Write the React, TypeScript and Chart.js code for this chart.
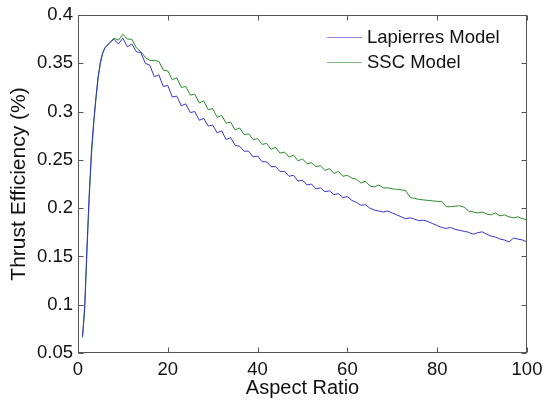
import React, { useEffect, useRef } from "react";
import { Chart, registerables } from "chart.js";

Chart.register(...registerables);

// ---- Data ----
const aspectRatio = [
  1, 1.5, 2, 2.5, 3, 3.5, 4, 4.5, 5, 5.5, 6,
  7, 8, 9, 10, 11, 12, 13, 14, 15, 16,
  17, 18, 19, 20, 21, 22, 23, 24, 25, 26,
  27, 28, 29, 30, 31, 32, 33, 34, 35, 36,
  37, 38, 39, 40, 41, 42, 43, 44, 45, 46,
  47, 48, 49, 50, 51, 52, 53, 54, 55, 56,
  57, 58, 59, 60, 61, 62, 63, 64, 65, 66,
  67, 68, 69, 70, 71, 72, 73, 74, 75, 76,
  77, 78, 79, 80, 81, 82, 83, 84, 85, 86,
  87, 88, 89, 90, 91, 92, 93, 94, 95, 96,
  97, 98, 99, 100,
];

const lapierresModel = [
  0.067, 0.1, 0.16, 0.215, 0.26, 0.29, 0.315, 0.337, 0.352, 0.361, 0.366,
  0.371, 0.375, 0.37, 0.376, 0.367, 0.37, 0.362, 0.361, 0.35, 0.348,
  0.336, 0.338, 0.326, 0.327, 0.315, 0.316, 0.306, 0.308, 0.299, 0.3,
  0.291, 0.293, 0.285, 0.286, 0.278, 0.28, 0.271, 0.273, 0.265, 0.264,
  0.259, 0.259, 0.253, 0.254, 0.248, 0.248, 0.243, 0.243, 0.238, 0.238,
  0.233, 0.234, 0.228, 0.229, 0.224, 0.225, 0.22, 0.221, 0.217, 0.218,
  0.214, 0.215, 0.211, 0.212, 0.208, 0.206, 0.203, 0.2035, 0.2, 0.198,
  0.197, 0.196, 0.197, 0.195, 0.193, 0.191, 0.189, 0.19, 0.1885, 0.187,
  0.1875, 0.186, 0.184, 0.182, 0.18, 0.179, 0.18, 0.178, 0.177, 0.176,
  0.175, 0.173, 0.1745, 0.1755, 0.173, 0.171, 0.17, 0.168, 0.167, 0.165,
  0.169, 0.168, 0.167, 0.165,
];

const sscModel = [
  0.066, 0.095, 0.155, 0.21, 0.255, 0.287, 0.313, 0.335, 0.35, 0.36, 0.366,
  0.371, 0.376, 0.374, 0.38, 0.375, 0.375, 0.366, 0.362, 0.356, 0.353,
  0.353, 0.352, 0.343, 0.342, 0.333, 0.335, 0.325, 0.326, 0.317, 0.318,
  0.309, 0.311, 0.302, 0.303, 0.294, 0.296, 0.288, 0.289, 0.281, 0.283,
  0.276, 0.277, 0.271, 0.272, 0.266, 0.267, 0.261, 0.263, 0.257, 0.258,
  0.253, 0.255, 0.249, 0.251, 0.246, 0.247, 0.243, 0.244, 0.239, 0.241,
  0.236, 0.238, 0.233, 0.234, 0.231, 0.23, 0.226, 0.228, 0.223, 0.222,
  0.224, 0.221, 0.221, 0.22, 0.2195, 0.219, 0.218, 0.211, 0.21, 0.209,
  0.2085, 0.208, 0.2075, 0.207, 0.207, 0.2015, 0.2015, 0.202, 0.2025, 0.201,
  0.197, 0.196, 0.195, 0.196, 0.194, 0.193, 0.195, 0.192, 0.193, 0.191,
  0.19, 0.191, 0.189, 0.188,
];

const seriesNames = ["Lapierres Model", "SSC Model"];
const seriesColors = ["#3535c8", "#2a8a2a"];
const xTickValues = [0, 20, 40, 60, 80, 100];
const yTickValues = [0.05, 0.1, 0.15, 0.2, 0.25, 0.3, 0.35, 0.4];
const xTitle = "Aspect Ratio";
const yTitle = "Thrust Efficiency (%)";

const FONT = "'Liberation Sans', Arial, sans-serif";

const boxPlugin = {
  id: "matlabBox",
  afterDraw(chart: any) {
    const { ctx, chartArea } = chart;
    const { left, right, top, bottom } = chartArea;
    ctx.save();
    ctx.strokeStyle = "#555555";
    ctx.lineWidth = 1;
    const L = Math.round(left) + 0.5;
    const R = Math.round(right) - 0.5;
    const T = Math.round(top) + 0.5;
    const B = Math.round(bottom) - 0.5;
    ctx.strokeRect(L, T, R - L, B - T);
    const tl = 5;
    ctx.beginPath();
    const xs = chart.scales.x;
    xs.ticks.forEach((t: any) => {
      const px = Math.round(xs.getPixelForValue(t.value)) + 0.5;
      ctx.moveTo(px, B);
      ctx.lineTo(px, B - tl);
      ctx.moveTo(px, T);
      ctx.lineTo(px, T + tl);
    });
    const ys = chart.scales.y;
    ys.ticks.forEach((t: any) => {
      const py = Math.round(ys.getPixelForValue(t.value)) + 0.5;
      ctx.moveTo(L, py);
      ctx.lineTo(L + tl, py);
      ctx.moveTo(R, py);
      ctx.lineTo(R - tl, py);
    });
    ctx.stroke();

    // legend
    const lx = right - 200;
    let ly = top + 22;
    ctx.font = `18.5px ${FONT}`;
    ctx.textBaseline = "middle";
    ctx.textAlign = "left";
    chart.data.datasets.forEach((ds: any) => {
      ctx.strokeStyle = ds.borderColor;
      ctx.globalAlpha = 0.6;
      ctx.beginPath();
      ctx.moveTo(lx, Math.round(ly) + 0.5);
      ctx.lineTo(lx + 35, Math.round(ly) + 0.5);
      ctx.stroke();
      ctx.globalAlpha = 1;
      ctx.fillStyle = "#111111";
      ctx.fillText(ds.label, lx + 40, ly + 1);
      ly += 25;
    });
    ctx.restore();
  },
};

export default function App() {
  const ref = useRef<HTMLCanvasElement | null>(null);
  useEffect(() => {
    if (!ref.current) return;
    const chart = new Chart(ref.current, {
      type: "line",
      data: {
        datasets: [
          {
            label: seriesNames[0],
            data: aspectRatio.map((x, i) => ({ x, y: lapierresModel[i] })),
            borderColor: seriesColors[0],
            borderWidth: 1,
            pointRadius: 0,
            tension: 0,
            fill: false,
          },
          {
            label: seriesNames[1],
            data: aspectRatio.map((x, i) => ({ x, y: sscModel[i] })),
            borderColor: seriesColors[1],
            borderWidth: 1,
            pointRadius: 0,
            tension: 0,
            fill: false,
          },
        ],
      },
      options: {
        animation: false,
        responsive: false,
        layout: { padding: { left: 0, top: 15, right: 16, bottom: 0 } },
        plugins: { legend: { display: false }, tooltip: { enabled: false } },
        scales: {
          x: {
            type: "linear",
            min: 0,
            max: 100,
            afterBuildTicks: (s: any) => {
              s.ticks = xTickValues.map((v) => ({ value: v }));
            },
            afterFit: (s: any) => {
              s.height = 47;
              s.paddingLeft = 0;
              s.paddingRight = 0;
            },
            grid: { display: false, drawTicks: false },
            border: { display: false },
            ticks: {
              font: { family: FONT, size: 18.5 },
              color: "#111111",
              padding: 6,
              maxRotation: 0,
              autoSkip: false,
            },
            title: {
              display: true,
              text: xTitle,
              font: { family: FONT, size: 20 },
              color: "#111111",
              padding: { top: 0, bottom: 0 },
            },
          },
          y: {
            type: "linear",
            min: 0.05,
            max: 0.4,
            afterBuildTicks: (s: any) => {
              s.ticks = yTickValues.map((v) => ({ value: v }));
            },
            afterFit: (s: any) => {
              s.width = 78;
              s.paddingTop = 0;
              s.paddingBottom = 0;
            },
            grid: { display: false, drawTicks: false },
            border: { display: false },
            ticks: {
              font: { family: FONT, size: 18.5 },
              color: "#111111",
              padding: 5,
              autoSkip: false,
              callback: (v: any) => String(Number(Number(v).toFixed(2))),
            },
            title: {
              display: true,
              text: yTitle,
              font: { family: FONT, size: 21 },
              color: "#111111",
              padding: { top: 7, bottom: 0 },
            },
          },
        },
      },
      plugins: [boxPlugin],
    });
    return () => chart.destroy();
  }, []);
  return (
    <div style={{ position: "absolute", left: 0, top: 0, width: 543, height: 400, background: "#fff" }}>
      <canvas ref={ref} width={543} height={400} style={{ display: "block" }} />
    </div>
  );
}
